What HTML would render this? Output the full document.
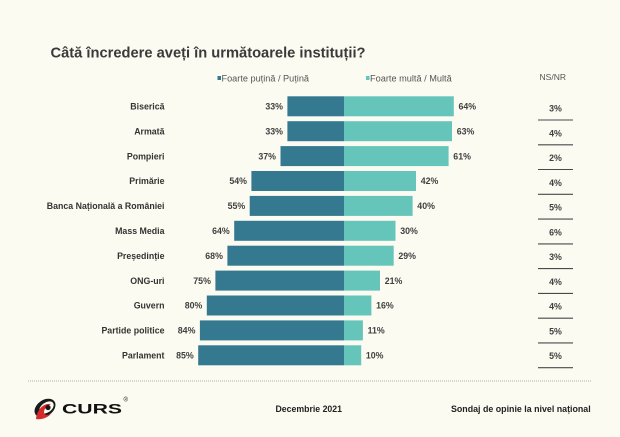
<!DOCTYPE html>
<html>
<head>
<meta charset="utf-8">
<style>
html,body{margin:0;padding:0;background:#fbfbf1;}
svg{display:block;}
text{font-family:"Liberation Sans",Arial,sans-serif;}
</style>
</head>
<body>
<svg width="620" height="437" viewBox="0 0 620 437" xmlns="http://www.w3.org/2000/svg">
<rect width="620" height="437" fill="#fbfbf1"/>
<text x="50.5" y="57.5" font-size="14.7" font-weight="bold" fill="#3a3a3a" textLength="315" lengthAdjust="spacingAndGlyphs">Câtă încredere aveți în următoarele instituții?</text>

<rect x="217.5" y="76" width="3.5" height="4" fill="#357990"/>
<text x="221.5" y="81.5" font-size="9" fill="#555" textLength="87.5" lengthAdjust="spacingAndGlyphs">Foarte puțină / Puțină</text>
<rect x="366" y="76" width="3.5" height="4" fill="#66c5bb"/>
<text x="370" y="81.5" font-size="9" fill="#555" textLength="81.7" lengthAdjust="spacingAndGlyphs">Foarte multă / Multă</text>
<text x="539.5" y="80" font-size="8.5" fill="#555" textLength="26.5" lengthAdjust="spacingAndGlyphs">NS/NR</text>

<g id="rows"></g>

<line x1="28" y1="381" x2="592" y2="381" stroke="#9a9a9a" stroke-width="0.8" stroke-dasharray="1,1"/>

<g transform="translate(45,408)">
  <ellipse cx="0" cy="0" rx="11.5" ry="8" transform="rotate(-35)" fill="#1a1a1a"/>
  <ellipse cx="1.5" cy="0.5" rx="8" ry="5" transform="rotate(-35)" fill="#fbfbf1"/>
  <path d="M-9,11 C-8,2 -2,-5 6,-4 C2,-2 -1,1 -1,4 C-1,7 2,8 6,6 C2,10 -4,12 -9,11 Z" fill="#d42a2a"/>
  <circle cx="3" cy="-0.5" r="2.6" fill="#1a1a1a"/>
</g>
<text x="62" y="413.5" font-size="13.5" font-weight="900" fill="#111" textLength="60" lengthAdjust="spacingAndGlyphs">CURS</text>
<text x="123.5" y="401.5" font-size="6" fill="#111">®</text>

<text x="275.5" y="412.2" font-size="8.8" font-weight="bold" fill="#222" textLength="66.5" lengthAdjust="spacingAndGlyphs">Decembrie 2021</text>
<text x="451" y="412.2" font-size="8.8" font-weight="bold" fill="#222" textLength="139.7" lengthAdjust="spacingAndGlyphs">Sondaj de opinie la nivel național</text>

<g font-size="8.8" font-weight="bold">
<!-- rows generated inline -->
<g fill="#333" text-anchor="end">
<text x="164.5" y="109.5">Biserică</text>
<text x="164.5" y="134.4">Armată</text>
<text x="164.5" y="159.3">Pompieri</text>
<text x="164.5" y="184.2">Primărie</text>
<text x="164.5" y="209.1" textLength="117.7" lengthAdjust="spacingAndGlyphs">Banca Națională a României</text>
<text x="164.5" y="234.0">Mass Media</text>
<text x="164.5" y="258.9">Președinție</text>
<text x="164.5" y="283.8">ONG-uri</text>
<text x="164.5" y="308.7">Guvern</text>
<text x="164.5" y="333.6">Partide politice</text>
<text x="164.5" y="358.5">Parlament</text>
</g>

<!-- dark bars: left = 344 - v*1.715 -->
<g fill="#357990">
<rect x="287.4" y="96.3" width="56.6" height="20"/>
<rect x="287.4" y="121.2" width="56.6" height="20"/>
<rect x="280.5" y="146.1" width="63.5" height="20"/>
<rect x="251.4" y="171.0" width="92.6" height="20"/>
<rect x="249.7" y="195.9" width="94.3" height="20"/>
<rect x="234.2" y="220.8" width="109.8" height="20"/>
<rect x="227.4" y="245.7" width="116.6" height="20"/>
<rect x="215.4" y="270.6" width="128.6" height="20"/>
<rect x="206.8" y="295.5" width="137.2" height="20"/>
<rect x="199.9" y="320.4" width="144.1" height="20"/>
<rect x="198.2" y="345.3" width="145.8" height="20"/>
</g>
<g fill="#66c5bb">
<rect x="344" y="96.3" width="109.8" height="20"/>
<rect x="344" y="121.2" width="108.0" height="20"/>
<rect x="344" y="146.1" width="104.6" height="20"/>
<rect x="344" y="171.0" width="72.0" height="20"/>
<rect x="344" y="195.9" width="68.6" height="20"/>
<rect x="344" y="220.8" width="51.5" height="20"/>
<rect x="344" y="245.7" width="49.7" height="20"/>
<rect x="344" y="270.6" width="36.0" height="20"/>
<rect x="344" y="295.5" width="27.4" height="20"/>
<rect x="344" y="320.4" width="18.9" height="20"/>
<rect x="344" y="345.3" width="17.2" height="20"/>
</g>

<g fill="#404040" text-anchor="end">
<text x="283" y="109.5">33%</text>
<text x="283" y="134.4">33%</text>
<text x="276" y="159.3">37%</text>
<text x="247" y="184.2">54%</text>
<text x="245.2" y="209.1">55%</text>
<text x="229.7" y="234.0">64%</text>
<text x="222.9" y="258.9">68%</text>
<text x="210.9" y="283.8">75%</text>
<text x="202.3" y="308.7">80%</text>
<text x="195.4" y="333.6">84%</text>
<text x="193.7" y="358.5">85%</text>
</g>
<g fill="#404040">
<text x="458.5" y="109.5">64%</text>
<text x="456.7" y="134.4">63%</text>
<text x="453.3" y="159.3">61%</text>
<text x="420.7" y="184.2">42%</text>
<text x="417.3" y="209.1">40%</text>
<text x="400.2" y="234.0">30%</text>
<text x="398.4" y="258.9">29%</text>
<text x="384.7" y="283.8">21%</text>
<text x="376.1" y="308.7">16%</text>
<text x="367.6" y="333.6">11%</text>
<text x="365.9" y="358.5">10%</text>
</g>

<g fill="#404040" text-anchor="middle">
<text x="555.5" y="111.5">3%</text>
<text x="555.5" y="136.3">4%</text>
<text x="555.5" y="161.0">2%</text>
<text x="555.5" y="185.8">4%</text>
<text x="555.5" y="210.6">5%</text>
<text x="555.5" y="235.4">6%</text>
<text x="555.5" y="260.1">3%</text>
<text x="555.5" y="284.9">4%</text>
<text x="555.5" y="309.7">4%</text>
<text x="555.5" y="334.5">5%</text>
<text x="555.5" y="359.2">5%</text>
</g>
</g>

<g stroke="#4a4a4a" stroke-width="1.1">
<line x1="538" y1="120.0" x2="573" y2="120.0"/>
<line x1="538" y1="144.8" x2="573" y2="144.8"/>
<line x1="538" y1="169.5" x2="573" y2="169.5"/>
<line x1="538" y1="194.3" x2="573" y2="194.3"/>
<line x1="538" y1="219.1" x2="573" y2="219.1"/>
<line x1="538" y1="243.9" x2="573" y2="243.9"/>
<line x1="538" y1="268.6" x2="573" y2="268.6"/>
<line x1="538" y1="293.4" x2="573" y2="293.4"/>
<line x1="538" y1="318.2" x2="573" y2="318.2"/>
<line x1="538" y1="342.9" x2="573" y2="342.9"/>
<line x1="538" y1="367.7" x2="573" y2="367.7"/>
</g>
</svg>
</body>
</html>
